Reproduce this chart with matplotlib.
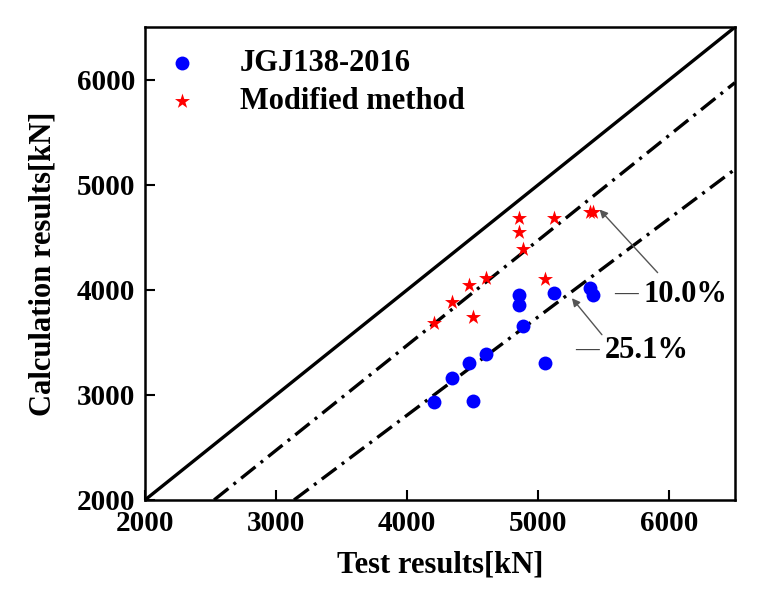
import numpy as np
import matplotlib
matplotlib.use('Agg')
import matplotlib.pyplot as plt

plt.rcParams['font.family'] = ['Liberation Serif', 'DejaVu Serif']
plt.rcParams['font.weight'] = 'bold'

# test results (shared by both methods)
test_kn = [4206, 4346, 4471, 4603, 4506, 4857, 4857, 4885, 5124, 5055, 5392, 5415]
jgj_kn = [2932, 3163, 3305, 3391, 2941, 3953, 3858, 3659, 3974, 3301, 4022, 3953]
modified_kn = [3684, 3889, 4045, 4111, 3737, 4685, 4550, 4391, 4680, 4101, 4742, 4742]

# reference lines
ref_x = [2000, 6500]
ref_y = [2000, 6500]
line10_x = [2527, 6500]
line10_y = [2000, 5972]
line25_x = [3137, 6500]
line25_y = [2000, 5147]

# annotations: arrow tip, arrow tail, dash position, number position
ann10 = {"text": "10.0%", "tip": (5468, 4765), "tail": (5911, 4164),
         "dash": (5580, 3959), "pos": (5802, 3959)}
ann25 = {"text": "25.1%", "tip": (5257, 3921), "tail": (5486, 3573),
         "dash": (5282, 3422), "pos": (5504, 3422)}

fig = plt.figure(figsize=(7.64, 6.06), dpi=100)
ax = fig.add_axes([0.1898, 0.175, 0.772, 0.780])

dashdot = (0, (5.5, 2.0, 0.9, 2.0))
ax.plot(ref_x, ref_y, color='black', linewidth=2.4, solid_capstyle='butt')
ax.plot(line10_x, line10_y, color='black', linewidth=2.4, linestyle=dashdot)
ax.plot(line25_x, line25_y, color='black', linewidth=2.4, linestyle=dashdot)

ax.scatter(test_kn, jgj_kn, s=100, color='#0000ff', marker='o', linewidths=0,
           label='JGJ138-2016', zorder=3)
ax.scatter(test_kn, modified_kn, s=130, color='#ff0000', marker='*', linewidths=0,
           label='Modified method', zorder=3)

for a in (ann10, ann25):
    ax.annotate("", xy=a["tip"], xytext=a["tail"],
                arrowprops=dict(arrowstyle='-|>', color='#555555', lw=1.0,
                                mutation_scale=12, shrinkA=0, shrinkB=0))
    ax.text(a["dash"][0], a["dash"][1], "\u2014", fontsize=17, fontweight='bold',
            color='#444444', ha='left', va='center')
    ax.text(a["pos"][0], a["pos"][1], a["text"], fontsize=22, fontweight='bold',
            ha='left', va='center')

ax.set_xlim(2000, 6500)
ax.set_ylim(2000, 6500)
ax.set_xticks([2000, 3000, 4000, 5000, 6000])
ax.set_yticks([2000, 3000, 4000, 5000, 6000])
ax.tick_params(direction='in', length=7, width=1.5, labelsize=21, pad=7,
               top=False, right=False)
for lab in ax.get_xticklabels() + ax.get_yticklabels():
    lab.set_fontweight('bold')
for sp in ax.spines.values():
    sp.set_linewidth(1.8)

ax.set_xlabel("Test results[kN]", fontsize=22, fontweight='bold', labelpad=10)
ax.set_ylabel("Calculation results[kN]", fontsize=22, fontweight='bold', labelpad=14)

ax.legend(loc='upper left', frameon=False, fontsize=22, handletextpad=0.9,
          borderaxespad=0.0, labelspacing=0.3, markerscale=1.0,
          bbox_to_anchor=(-0.01, 0.98))

fig.savefig("out.png", dpi=100)
plt.close(fig)
